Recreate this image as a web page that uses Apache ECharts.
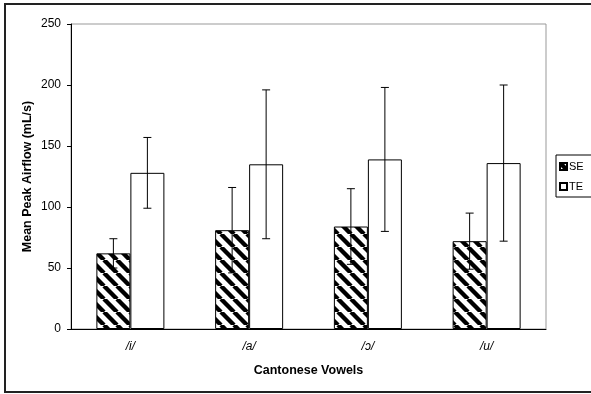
<!DOCTYPE html>
<html>
<head>
<meta charset="utf-8">
<script src="https://cdn.jsdelivr.net/npm/echarts@6/dist/echarts.min.js"></script>
<style>
  html, body { margin: 0; padding: 0; background: #fff; }
  #chart { width: 591px; height: 394px; }
</style>
</head>
<body>
<div id="chart"></div>
<script>
// 元音类别
var categories = ['/i/', '/a/', '/ɔ/', '/u/'];
// SE 组均值与误差
var seMean = [62, 81, 84, 72];
var seErr = [12, 35, 31, 23];
// TE 组均值与误差
var teMean = [128, 135, 139, 136];
var teErr = [29, 61, 59, 64];
var yTicks = [0, 50, 100, 150, 200, 250];

// 斜线填充图案
function makeStripes() {
    var s = 13;
    var c = document.createElement('canvas');
    c.width = s; c.height = s;
    var ctx = c.getContext('2d');
    ctx.fillStyle = '#fff';
    ctx.fillRect(0, 0, s, s);
    ctx.strokeStyle = '#000';
    ctx.lineWidth = 4.4;
    [-s, 0, s].forEach(function (d) {
        ctx.beginPath();
        ctx.moveTo(d, 0);
        ctx.lineTo(d + s, s);
        ctx.stroke();
    });
    return c;
}

var barW = 34;

function errRows(mean, err) {
    var arr = [];
    for (var i = 0; i < mean.length; i++) {
        arr.push([i, mean[i] - err[i], mean[i] + err[i]]);
    }
    return arr;
}

// 误差线
function errRender(offset) {
    return function (params, api) {
        var top = api.coord([api.value(0), api.value(2)]);
        var bot = api.coord([api.value(0), api.value(1)]);
        var x = top[0] + offset;
        var st = { stroke: '#000', lineWidth: 1 };
        return {
            type: 'group',
            children: [
                { type: 'line', shape: { x1: x, y1: top[1], x2: x, y2: bot[1] }, style: st },
                { type: 'line', shape: { x1: x - 4, y1: top[1], x2: x + 4, y2: top[1] }, style: st },
                { type: 'line', shape: { x1: x - 4, y1: bot[1], x2: x + 4, y2: bot[1] }, style: st }
            ]
        };
    };
}

var chart = echarts.init(document.getElementById('chart'));
var font = '"Liberation Sans", Arial, sans-serif';
chart.setOption({
    animation: false,
    textStyle: { fontFamily: font },
    graphic: [{
        type: 'rect',
        shape: { x: 5, y: 4, width: 620, height: 388 },
        style: { fill: 'none', stroke: '#222', lineWidth: 2 },
        silent: true
    }],
    grid: {
        left: 71, top: 24, right: 45, bottom: 65,
        show: true, borderColor: '#999', borderWidth: 1
    },
    legend: {
        orient: 'vertical',
        left: 556, top: 155,
        itemWidth: 7, itemHeight: 7, itemGap: 9,
        padding: [6, 20, 5, 3],
        borderColor: '#000', borderWidth: 1,
        textStyle: { fontSize: 11, color: '#000', fontFamily: font, padding: [0, 0, 0, -3] },
        data: [{ name: 'SE', icon: 'rect' }, { name: 'TE', icon: 'rect' }]
    },
    xAxis: {
        type: 'category',
        data: categories,
        name: 'Cantonese Vowels',
        nameLocation: 'middle',
        nameGap: 35,
        nameMoveOverlap: false,
        nameTextStyle: { fontWeight: 'bold', fontSize: 12.5, color: '#000' },
        axisLine: { lineStyle: { color: '#000' } },
        axisTick: { length: 5, lineStyle: { color: '#000' } },
        axisLabel: { fontSize: 12, color: '#000', fontStyle: 'italic', margin: 12 }
    },
    yAxis: {
        type: 'value',
        min: 0, max: 250, interval: 50,
        name: 'Mean Peak Airflow (mL/s)',
        nameLocation: 'middle',
        nameGap: 37,
        nameMoveOverlap: false,
        nameTextStyle: { fontWeight: 'bold', fontSize: 12.5, color: '#000' },
        axisLine: { show: true, lineStyle: { color: '#000' } },
        axisTick: { show: true, length: 4, lineStyle: { color: '#000' } },
        axisLabel: {
            fontSize: 12, color: '#000', margin: 10,
            formatter: function (v) { return yTicks.indexOf(v) >= 0 ? v : ''; }
        },
        splitLine: { show: false }
    },
    series: [{
        name: 'SE',
        type: 'bar',
        barWidth: barW,
        barGap: '0%',
        data: seMean,
        itemStyle: {
            color: { image: makeStripes(), repeat: 'repeat' },
            borderColor: '#000', borderWidth: 1
        }
    }, {
        name: 'TE',
        type: 'bar',
        barWidth: barW,
        barGap: '0%',
        data: teMean,
        itemStyle: { color: '#fff', borderColor: '#000', borderWidth: 1 }
    }, {
        type: 'custom',
        renderItem: errRender(-barW / 2),
        data: errRows(seMean, seErr),
        z: 5
    }, {
        type: 'custom',
        renderItem: errRender(barW / 2),
        data: errRows(teMean, teErr),
        z: 5
    }]
});
</script>
</body>
</html>
